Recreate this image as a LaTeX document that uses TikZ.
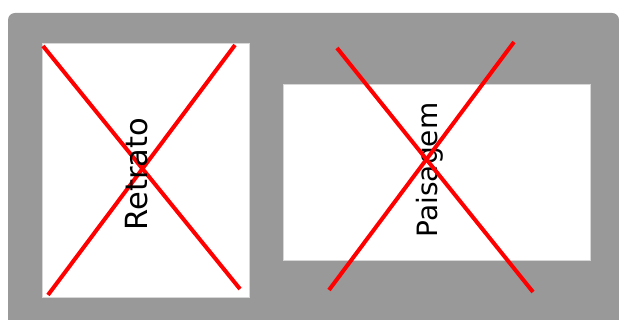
\documentclass[tikz,border=0pt]{standalone}
\usepackage{fontspec}
\setmainfont{DejaVu Sans}
\definecolor{bggray}{RGB}{153,153,153}
\definecolor{edgegray}{RGB}{215,215,215}
\tikzset{
  card/.style={fill=white, draw=edgegray, line width=0.8pt},
  cross/.style={draw=red, line width=4pt},
  label/.style={rotate=90, inner sep=0pt}
}
\begin{document}
\begin{tikzpicture}[x=1pt,y=-1pt]
\useasboundingbox (0,0) rectangle (619,320);
\clip (0,0) rectangle (619,320);
\fill[bggray, rounded corners=7pt] (8,13) rectangle (619,330);
% portrait card
\draw[card] (42,43) rectangle (249,297);
\coordinate (p1) at (43,46);
\coordinate (p2) at (240,289);
\coordinate (p3) at (235,45);
\coordinate (p4) at (48,295);
\draw[cross] (p1) -- (p2);
\draw[cross] (p3) -- (p4);
\node[label, font=\fontsize{30.5}{33}\selectfont] (retrato) at (137,174) {Retrato};
% landscape card
\draw[card] (283,84) rectangle (590,260);
\coordinate (l1) at (337,48);
\coordinate (l2) at (533,292);
\coordinate (l3) at (514,42);
\coordinate (l4) at (329,290);
\node[label, font=\fontsize{28}{31}\selectfont] (paisagem) at (430,170) {Paisagem};
\draw[cross] (l1) -- (l2);
\draw[cross] (l3) -- (l4);
\end{tikzpicture}
\end{document}
